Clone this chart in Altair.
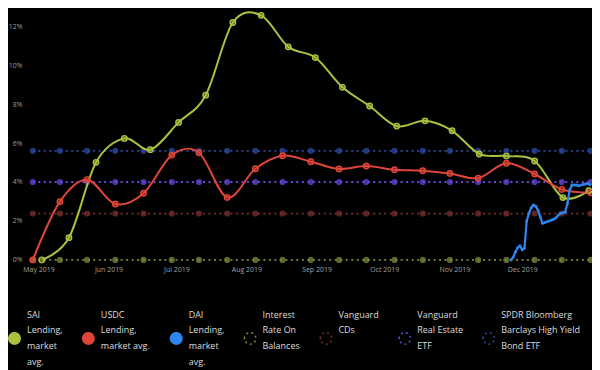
import json
import altair as alt
import pandas as pd

# ---------------- data ----------------
series = [
    "SAI Lending, market avg.",
    "USDC Lending, market avg.",
    "DAI Lending, market avg.",
    "Interest Rate On Balances",
    "Vanguard CDs",
    "Vanguard Real Estate ETF",
    "SPDR Bloomberg Barclays High Yield Bond ETF",
]
legend_lines = [
    ["SAI", "Lending,", "market", "avg."],
    ["USDC", "Lending,", "market avg.", ""],
    ["DAI", "Lending,", "market", "avg."],
    ["Interest", "Rate On", "Balances", ""],
    ["Vanguard", "CDs", "", ""],
    ["Vanguard", "Real Estate", "ETF", ""],
    ["SPDR Bloomberg", "Barclays High Yield", "Bond ETF", ""],
]
colors = ["#a9c23f", "#e0453a", "#2f86f0", "#7d8a3a", "#7a2f2c", "#6a46dc", "#2c4aa6"]

sai_dates = [
    "2019-05-02T12:00", "2019-05-14T12:00", "2019-05-26T12:00", "2019-06-08T00:00",
    "2019-06-19T12:00", "2019-07-02T00:00", "2019-07-14T00:00", "2019-07-26T00:00",
    "2019-08-07T12:00", "2019-08-19T12:00", "2019-08-31T12:00", "2019-09-12T12:00",
    "2019-09-24T12:00", "2019-10-06T12:00", "2019-10-19T00:00", "2019-10-31T00:00",
    "2019-11-12T00:00", "2019-11-24T00:00", "2019-12-06T12:00", "2019-12-19T00:00",
    "2019-12-30T12:00",
]
sai_values = [0.0, 1.14, 5.01, 6.24, 5.66, 7.06, 8.46, 12.19, 12.56, 10.94, 10.39,
              8.86, 7.90, 6.87, 7.14, 6.63, 5.44, 5.33, 5.08, 3.20, 3.55]

usdc_dates = [
    "2019-04-28T12:00", "2019-05-10T12:00", "2019-05-22T12:00", "2019-06-04T00:00",
    "2019-06-16T12:00", "2019-06-29T00:00", "2019-07-11T00:00", "2019-07-23T12:00",
    "2019-08-05T00:00", "2019-08-17T00:00", "2019-08-29T12:00", "2019-09-11T00:00",
    "2019-09-23T00:00", "2019-10-05T12:00", "2019-10-18T00:00", "2019-10-30T00:00",
    "2019-11-11T12:00", "2019-11-24T00:00", "2019-12-06T12:00", "2019-12-18T12:00",
    "2019-12-31T07:00",
]
usdc_values = [0.0, 2.99, 4.12, 2.87, 3.42, 5.38, 5.50, 3.21, 4.68, 5.35, 5.04,
               4.67, 4.82, 4.63, 4.58, 4.44, 4.20, 4.96, 4.41, 3.62, 3.45]

dai_dates = [
    "2019-11-26T00:00", "2019-11-27T00:00", "2019-11-28T00:00", "2019-11-29T00:00",
    "2019-11-30T00:00", "2019-12-01T00:00", "2019-12-02T00:00", "2019-12-03T00:00",
    "2019-12-04T00:00", "2019-12-05T00:00", "2019-12-06T00:00", "2019-12-07T00:00",
    "2019-12-08T00:00", "2019-12-09T00:00", "2019-12-10T00:00", "2019-12-11T00:00",
    "2019-12-12T00:00", "2019-12-13T00:00", "2019-12-14T00:00", "2019-12-15T00:00",
    "2019-12-16T00:00", "2019-12-17T00:00", "2019-12-18T00:00", "2019-12-19T00:00",
    "2019-12-20T00:00", "2019-12-21T00:00", "2019-12-22T00:00", "2019-12-23T00:00",
    "2019-12-24T00:00", "2019-12-25T00:00", "2019-12-26T00:00", "2019-12-27T00:00",
    "2019-12-28T00:00", "2019-12-29T00:00", "2019-12-30T00:00", "2019-12-31T00:00",
]
dai_values = [0.0, 0.14, 0.40, 0.62, 0.73, 0.52, 0.60, 2.00, 2.40, 2.68, 2.82, 2.75,
              2.55, 2.20, 1.88, 1.92, 1.96, 2.00, 2.05, 2.09, 2.17, 2.30, 2.39, 2.42,
              2.45, 2.90, 3.60, 3.84, 3.85, 3.84, 3.80, 3.85, 3.87, 3.90, 3.93, 3.86]

# constant benchmark rates (Interest Rate On Balances, Vanguard CDs, Real Estate ETF, SPDR)
const_values = [0.0, 2.38, 4.0, 5.6]

x_tick_months = [5, 6, 7, 8, 9, 10, 11, 12]
y_ticks = [0, 2, 4, 6, 8, 10, 12]

# ---------------- tables ----------------
smooth_df = pd.DataFrame({
    "date": sai_dates + usdc_dates,
    "value": sai_values + usdc_values,
    "series": [series[0]] * len(sai_dates) + [series[1]] * len(usdc_dates),
})
dai_df = pd.DataFrame({"date": dai_dates, "value": dai_values, "series": series[2]})
const_rows = []
for name, val in zip(series[3:], const_values):
    for d in usdc_dates:
        const_rows.append({"date": d, "value": val, "series": name})
const_df = pd.DataFrame(const_rows)
legend_df = pd.DataFrame({"series": series})

# ---------------- scales / axes ----------------
x_scale = alt.Scale(
    type="time",
    domain=[alt.DateTime(year=2019, month=4, date=27, hours=6),
            alt.DateTime(year=2019, month=12, date=31, hours=21)],
)
y_scale = alt.Scale(domain=[0, 12.92], nice=False)
# colour scale of the plotted marks (listed in reverse so that it stays separate
# from the legend scales below)
color_scale = alt.Scale(domain=series[::-1], range=colors[::-1])

x_axis = alt.Axis(
    values=[alt.DateTime(year=2019, month=m, date=1) for m in x_tick_months],
    format="%b %Y", labelFontSize=7, labelColor="#a0a0a0", labelFont="Open Sans",
    domain=False, ticks=False, tickSize=0, grid=False, labelPadding=6, title=None,
)
y_axis = alt.Axis(
    values=y_ticks, labelExpr="datum.value + '%'", labelFontSize=7,
    labelColor="#9a9a9a", labelFont="Open Sans",
    domain=False, ticks=False, tickSize=0, grid=False, labelPadding=8, title=None,
)


def X():
    return alt.X("date:T", scale=x_scale, axis=x_axis, title=None)


def Y():
    return alt.Y("value:Q", scale=y_scale, axis=y_axis, title=None)


def C():
    return alt.Color("series:N", scale=color_scale, legend=None)


# ---------------- layers ----------------
const_lines = alt.Chart(const_df).mark_line(
    strokeDash=[2, 3.5], strokeWidth=1.8
).encode(x=X(), y=Y(), color=C(), detail="series:N")

const_points = alt.Chart(const_df).mark_circle(size=38, opacity=0.75).encode(
    x=X(), y=Y(), color=C()
)

smooth_lines = alt.Chart(smooth_df).mark_line(
    interpolate="cardinal", strokeWidth=2
).encode(x=X(), y=Y(), color=C(), detail="series:N")

smooth_fill = alt.Chart(smooth_df).mark_circle(size=30, opacity=0.45).encode(
    x=X(), y=Y(), color=C()
)
smooth_ring = alt.Chart(smooth_df).mark_point(
    size=30, strokeWidth=1.4, filled=False, opacity=1
).encode(x=X(), y=Y(), color=C())

dai_line = alt.Chart(dai_df).mark_line(strokeWidth=2.2).encode(
    x=X(), y=Y(), color=C()
)
dai_points = alt.Chart(dai_df).mark_circle(size=9, opacity=0.9).encode(
    x=X(), y=Y(), color=C()
)

label_expr = ""
for name, lines in zip(series, legend_lines):
    label_expr += "datum.label == " + json.dumps(name) + " ? " + json.dumps(lines) + " : "
label_expr += "datum.label"

# circle symbol drawn lower than the first label line, so that it sits beside
# the middle of the multi-line label block
legend_symbol = "M -1,4.2 A 1,1 0 1,1 1,4.2 A 1,1 0 1,1 -1,4.2 Z"

legend = alt.Legend(
    title=None, orient="none", legendX=-22, legendY=300, direction="horizontal",
    columns=7, columnPadding=16, labelOffset=6, labelExpr=label_expr,
    labelFontSize=9, labelFont="Open Sans", labelColor="#dddddd", labelLimit=300,
    symbolType=legend_symbol, symbolSize=130, symbolStrokeWidth=1.5, symbolOpacity=1,
    padding=0,
)
fill_range = colors[:3] + ["transparent"] * 4
dash_range = [[1, 0]] * 3 + [[2, 3]] * 4

legend_layer = alt.Chart(legend_df).mark_point(opacity=0.001, filled=False, size=1).encode(
    x=alt.value(0), y=alt.value(0),
    stroke=alt.Stroke("series:N", scale=alt.Scale(domain=series, range=colors), legend=legend),
    fill=alt.Fill("series:N", scale=alt.Scale(domain=series, range=fill_range), legend=legend),
    strokeDash=alt.StrokeDash("series:N", scale=alt.Scale(domain=series, range=dash_range), legend=legend),
)

chart = alt.layer(
    const_lines, const_points, smooth_lines, smooth_fill, smooth_ring,
    dai_line, dai_points, legend_layer,
).properties(
    width=563, height=252,
    padding={"left": 22, "top": 0, "right": 0, "bottom": 110},
    autosize=alt.AutoSizeParams(type="none"),
).configure(
    background="#000000",
    style={"guide-label": {"lineHeight": 16}},
).configure_view(strokeWidth=0)

chart.save("out.html", embed_options={"renderer": "svg", "actions": False})
